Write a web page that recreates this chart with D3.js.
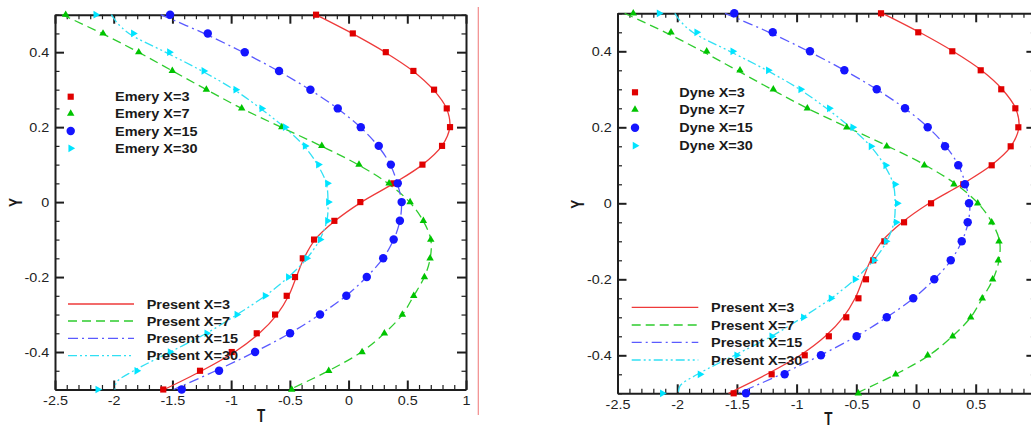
<!DOCTYPE html>
<html>
<head>
<meta charset="utf-8">
<script src="https://cdn.jsdelivr.net/npm/d3@7"></script>
<style>
  body { margin: 0; background: #fff; }
  svg { display: block; }
</style>
</head>
<body>
<div id="chart"></div>
<script>
// Y stations shared by every series
let y_levels = [0.5, 0.45, 0.4, 0.35, 0.3, 0.25, 0.2, 0.15, 0.1, 0.05, 0,
                -0.05, -0.1, -0.15, -0.2, -0.25, -0.3, -0.35, -0.4, -0.45, -0.5];

// Emery (left panel markers), T values at y_levels
let emery_x3  = [-0.277, 0.036, 0.317, 0.552, 0.728, 0.836, 0.864, 0.796, 0.629, 0.381, 0.1,
                 -0.121, -0.294, -0.39, -0.456, -0.527, -0.626, -0.782, -0.995, -1.265, -1.578];
let emery_x7  = [-2.409, -2.091, -1.787, -1.501, -1.211, -0.91, -0.569, -0.228, 0.089, 0.345, 0.524,
                 0.637, 0.7, 0.694, 0.646, 0.555, 0.458, 0.305, 0.115, -0.169, -0.484];
let emery_x15 = [-1.52, -1.199, -0.884, -0.592, -0.325, -0.092, 0.104, 0.257, 0.36, 0.419, 0.452,
                 0.437, 0.384, 0.295, 0.155, -0.019, -0.243, -0.498, -0.796, -1.103, -1.421];
let emery_x30 = [-2.153, -1.833, -1.526, -1.233, -0.961, -0.74, -0.54, -0.37, -0.257, -0.18, -0.172,
                 -0.18, -0.243, -0.357, -0.513, -0.711, -0.952, -1.208, -1.52, -1.804, -2.136];

// Dyne (right panel markers)
let dyne_x3  = [-0.293, 0.019, 0.304, 0.542, 0.714, 0.832, 0.857, 0.793, 0.634, 0.396, 0.126,
                -0.1, -0.265, -0.358, -0.419, -0.482, -0.584, -0.73, -0.932, -1.209, -1.527];
let dyne_x7  = [-2.368, -2.052, -1.753, -1.474, -1.195, -0.91, -0.58, -0.245, 0.07, 0.318, 0.517,
                0.634, 0.695, 0.689, 0.642, 0.555, 0.458, 0.307, 0.098, -0.17, -0.483];
let dyne_x15 = [-1.522, -1.2, -0.888, -0.6, -0.329, -0.092, 0.098, 0.243, 0.354, 0.41, 0.444,
                0.433, 0.383, 0.291, 0.153, -0.023, -0.245, -0.497, -0.796, -1.1, -1.424];
let dyne_x30 = [-2.152, -1.837, -1.535, -1.237, -0.966, -0.726, -0.53, -0.377, -0.254, -0.176, -0.157,
                -0.167, -0.251, -0.352, -0.511, -0.712, -0.944, -1.208, -1.502, -1.809, -2.125];

// Present computation (lines, same in both panels)
let present_x3  = [-0.28, 0.03, 0.31, 0.548, 0.722, 0.834, 0.862, 0.795, 0.63, 0.385, 0.11,
                   -0.115, -0.285, -0.38, -0.445, -0.51, -0.61, -0.76, -0.97, -1.25, -1.57];
let present_x7  = [-2.44, -2.1, -1.79, -1.5, -1.21, -0.91, -0.575, -0.235, 0.08, 0.335, 0.52,
                   0.635, 0.7, 0.695, 0.645, 0.555, 0.458, 0.305, 0.11, -0.17, -0.5];
let present_x15 = [-1.6, -1.23, -0.9, -0.6, -0.33, -0.095, 0.1, 0.25, 0.355, 0.415, 0.45,
                   0.437, 0.384, 0.293, 0.153, -0.021, -0.245, -0.5, -0.8, -1.13, -1.49];
let present_x30_y = [0.5, 0.48, 0.45, 0.4, 0.35, 0.3, 0.25, 0.2, 0.15, 0.1, 0.05, 0,
                     -0.05, -0.1, -0.15, -0.2, -0.25, -0.3, -0.35, -0.4, -0.45, -0.48, -0.5];
let present_x30 = [-2.02, -1.975, -1.87, -1.56, -1.25, -0.975, -0.75, -0.55, -0.38, -0.265, -0.19, -0.175,
                   -0.185, -0.245, -0.355, -0.512, -0.71, -0.95, -1.21, -1.52, -1.83, -1.975, -1.99];

let x_tick_values = [-2.5, -2, -1.5, -1, -0.5, 0, 0.5, 1];
let x_tick_labels = ["-2.5", "-2", "-1.5", "-1", "-0.5", "0", "0.5", "1"];
let y_tick_values = [-0.4, -0.2, 0, 0.2, 0.4];
let y_tick_labels = ["-0.4", "-0.2", "0", "0.2", "0.4"];

let series_names = ["X=3", "X=7", "X=15", "X=30"];

let colors = {
    marker: ["#e00000", "#00c400", "#1515ff", "#00e4ff"],
    line: ["#ee3a3a", "#2ecc2e", "#5a5aff", "#30e0f4"]
};
let dashes = [null, "9,5", "10,4,2,4", "9,3,2,3,2,3"];

const SX = 1.15;
const FONT = "'Liberation Sans', Arial, sans-serif";
const AXIS_COLOR = "#1e1e1e";
const PAGE_W = 1031;

let svg = d3.select("#chart").append("svg")
    .attr("width", PAGE_W)
    .attr("height", 425);

// thin red separator between the two figures
svg.append("line")
    .attr("x1", 478.3).attr("x2", 478.3)
    .attr("y1", 7).attr("y2", 415)
    .attr("stroke", "#f28b8b")
    .attr("stroke-width", 1.2);

function marker_path(i, size_scale) {
    let s = size_scale || 1;
    if (i == 0) return d3.symbol().type(d3.symbolSquare).size(38 * s)();
    if (i == 1) return d3.symbol().type(d3.symbolTriangle).size(24 * s)();
    if (i == 2) return d3.symbol().type(d3.symbolCircle).size(56 * s)();
    return d3.symbol().type(d3.symbolTriangle).size(26 * s)();
}
function marker_rot(i) {
    return i == 3 ? " rotate(90)" : "";
}

function draw_panel(cfg) {
    let xScale = d3.scaleLinear().domain([-2.5, 1]).range([cfg.left, cfg.right]);
    let yScale = d3.scaleLinear().domain([-0.5, 0.5]).range([cfg.bottom, cfg.top]);

    let g = svg.append("g");

    let x_minor = d3.range(-25, 11).map(d => d / 10).filter(d => x_tick_values.indexOf(d) < 0);
    let y_minor = d3.range(-10, 11).map(d => d / 20).filter(d => y_tick_values.indexOf(d) < 0);

    // minor ticks on all four sides
    let minor_axes = [
        [d3.axisBottom(xScale).tickValues(x_minor), "translate(0," + cfg.bottom + ")"],
        [d3.axisTop(xScale).tickValues(x_minor), "translate(0," + cfg.top + ")"],
        [d3.axisLeft(yScale).tickValues(y_minor), "translate(" + cfg.left + ",0)"],
        [d3.axisRight(yScale).tickValues(y_minor), "translate(" + cfg.right + ",0)"]
    ];
    for (let a of minor_axes) {
        let ag = g.append("g").attr("transform", a[1])
            .call(a[0].tickSize(-4.5).tickSizeOuter(0).tickFormat(""));
        ag.select(".domain").remove();
        ag.selectAll("line").attr("stroke", AXIS_COLOR).attr("stroke-width", 1.2);
    }

    // major ticks
    let bottom_axis = g.append("g")
        .attr("transform", "translate(0," + cfg.bottom + ")")
        .call(d3.axisBottom(xScale).tickValues(x_tick_values)
            .tickSize(-9).tickSizeOuter(0).tickPadding(6.5)
            .tickFormat((d, i) => x_tick_labels[i]));
    // labels that would fall past the page edge are not printed in the figure
    bottom_axis.selectAll(".tick text")
        .filter(d => xScale(d) > PAGE_W - 4)
        .remove();
    let top_axis = g.append("g")
        .attr("transform", "translate(0," + cfg.top + ")")
        .call(d3.axisTop(xScale).tickValues(x_tick_values)
            .tickSize(-9).tickSizeOuter(0).tickFormat(""));
    let left_axis = g.append("g")
        .attr("transform", "translate(" + cfg.left + ",0)")
        .call(d3.axisLeft(yScale).tickValues(y_tick_values)
            .tickSize(-9).tickSizeOuter(0).tickPadding(5)
            .tickFormat((d, i) => y_tick_labels[i]));
    let right_axis = g.append("g")
        .attr("transform", "translate(" + cfg.right + ",0)")
        .call(d3.axisRight(yScale).tickValues(y_tick_values)
            .tickSize(-9).tickSizeOuter(0).tickFormat(""));

    for (let ag of [bottom_axis, top_axis, left_axis, right_axis]) {
        ag.selectAll("line").attr("stroke", AXIS_COLOR).attr("stroke-width", 2);
        ag.select(".domain").attr("stroke", AXIS_COLOR).attr("stroke-width", 2);
        ag.selectAll("text")
            .attr("fill", "#222")
            .attr("font-family", FONT)
            .attr("font-size", "12.5px")
            .attr("transform", "scale(" + SX + ",1)");
    }

    // present lines
    let line = d3.line()
        .x(d => xScale(d[0]))
        .y(d => yScale(d[1]))
        .curve(d3.curveCatmullRom.alpha(0.5));

    let line_sets = [
        present_x3.map((t, i) => [t, y_levels[i]]),
        present_x7.map((t, i) => [t, y_levels[i]]),
        present_x15.map((t, i) => [t, y_levels[i]]),
        present_x30.map((t, i) => [t, present_x30_y[i]])
    ];
    line_sets.forEach((pts, i) => {
        g.append("path")
            .datum(pts)
            .attr("fill", "none")
            .attr("stroke", colors.line[i])
            .attr("stroke-width", 1.3)
            .attr("stroke-dasharray", dashes[i])
            .attr("d", line);
    });

    // experimental markers
    cfg.markers.forEach((vals, i) => {
        g.append("g").selectAll("path")
            .data(vals.map((t, j) => [t, y_levels[j]]))
            .enter()
            .append("path")
            .attr("transform", d => "translate(" + xScale(d[0]) + "," + yScale(d[1]) + ")" + marker_rot(i))
            .attr("d", marker_path(i))
            .attr("fill", colors.marker[i]);
    });

    // legend: markers
    series_names.forEach((name, i) => {
        let yy = cfg.leg1_y[i];
        g.append("path")
            .attr("transform", "translate(" + cfg.leg1_sym + "," + yy + ")" + marker_rot(i))
            .attr("d", marker_path(i))
            .attr("fill", colors.marker[i]);
        g.append("text")
            .attr("transform", "translate(" + cfg.leg1_text + "," + (yy + 4.6) + ") scale(" + SX + ",1)")
            .attr("font-family", FONT)
            .attr("font-weight", "bold")
            .attr("font-size", "12.6px")
            .attr("fill", "#1a1a1a")
            .text(cfg.name + " " + name);
    });

    // legend: lines
    series_names.forEach((name, i) => {
        let yy = cfg.leg2_y[i];
        g.append("line")
            .attr("x1", cfg.leg2_line[0]).attr("x2", cfg.leg2_line[1])
            .attr("y1", yy).attr("y2", yy)
            .attr("stroke", colors.line[i])
            .attr("stroke-width", 1.3)
            .attr("stroke-dasharray", dashes[i]);
        g.append("text")
            .attr("transform", "translate(" + cfg.leg2_text + "," + (yy + 4.6) + ") scale(" + SX + ",1)")
            .attr("font-family", FONT)
            .attr("font-weight", "bold")
            .attr("font-size", "12.6px")
            .attr("fill", "#1a1a1a")
            .text("Present " + name);
    });

    // axis titles
    g.append("text")
        .attr("transform", "translate(" + cfg.t_label[0] + "," + cfg.t_label[1] + ") scale(0.75,1)")
        .attr("text-anchor", "middle")
        .attr("font-family", FONT)
        .attr("font-weight", "bold")
        .attr("font-size", "18px")
        .attr("fill", "#1a1a1a")
        .text("T");
    g.append("text")
        .attr("transform", "translate(" + cfg.y_label[0] + "," + cfg.y_label[1] + ") rotate(-90) scale(0.75,1)")
        .attr("text-anchor", "middle")
        .attr("font-family", FONT)
        .attr("font-weight", "bold")
        .attr("font-size", "18px")
        .attr("fill", "#1a1a1a")
        .text("Y");
}

draw_panel({
    name: "Emery",
    left: 55, right: 466, top: 14.7, bottom: 389.5,
    markers: [emery_x3, emery_x7, emery_x15, emery_x30],
    leg1_sym: 70.7, leg1_text: 115, leg1_y: [96.7, 113.6, 131, 148.3],
    leg2_line: [68, 134], leg2_text: 146.7, leg2_y: [304, 321, 338.3, 355.7],
    t_label: [261, 421.5],
    y_label: [21.5, 202.5]
});

draw_panel({
    name: "Dyne",
    left: 617.5, right: 1035.4, top: 13.3, bottom: 393.3,
    markers: [dyne_x3, dyne_x7, dyne_x15, dyne_x30],
    leg1_sym: 635, leg1_text: 679.3, leg1_y: [92.3, 109.5, 127.7, 145.7],
    leg2_line: [631.7, 698.3], leg2_text: 711, leg2_y: [307.3, 325, 342.3, 360],
    t_label: [828.3, 425],
    y_label: [583.7, 204.2]
});
</script>
</body>
</html>
